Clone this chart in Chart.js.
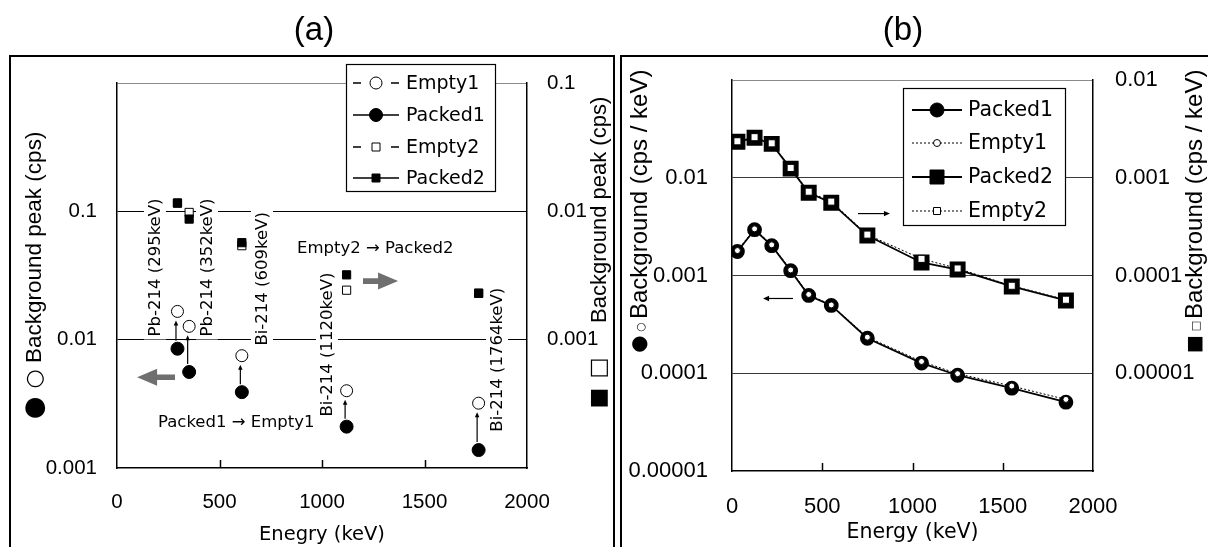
<!DOCTYPE html>
<html><head><meta charset="utf-8">
<script src="https://cdn.jsdelivr.net/npm/chart.js@4.4.0/dist/chart.umd.min.js"></script>
<style>
html,body{margin:0;padding:0;background:#fff;width:1208px;height:547px;overflow:hidden}
canvas{position:absolute;left:0;top:0}
</style></head><body>
<canvas id="ca" width="1208" height="547"></canvas>
<canvas id="cb" width="1208" height="547"></canvas>
<script>
// ---------- data: panel (a) ----------
const energyA = [295, 352, 609, 1120, 1764];
const empty1A = [0.0166, 0.0127, 0.0075, 0.0040, 0.0032];
const packed1A = [0.0085, 0.0056, 0.0039, 0.0021, 0.00138];
const empty2A = [0.0116, 0.0098, 0.0054, 0.00243, 0.0023];
const packed2A = [0.0116, 0.0087, 0.0057, 0.0032, 0.0023];
const peakLabelsA = ['Pb-214 (295keV)', 'Pb-214 (352keV)', 'Bi-214 (609keV)', 'Bi-214 (1120keV)', 'Bi-214 (1764keV)'];

// ---------- data: panel (b) ----------
const energyB = [30, 125, 220, 325, 425, 550, 750, 1050, 1250, 1550, 1850];
const packed1B = [0.00176, 0.00294, 0.00202, 0.00112, 0.000625, 0.000494, 0.000228, 0.000127, 0.0000954, 0.0000703, 0.0000506];
const empty1B = [0.00180, 0.00300, 0.00206, 0.00114, 0.00064, 0.00050, 0.000234, 0.000132, 0.0000990, 0.0000740, 0.0000540];
const packed2B = [0.00233, 0.00256, 0.00222, 0.00124, 0.000703, 0.000556, 0.000256, 0.000136, 0.000115, 0.0000773, 0.0000556];
const empty2B = [0.00236, 0.00260, 0.00225, 0.00126, 0.00072, 0.00057, 0.000262, 0.000148, 0.000118, 0.0000785, 0.0000565];

// ---------- ticks ----------
const xTickValues = [0, 500, 1000, 1500, 2000];
const xTickLabels = ['0', '500', '1000', '1500', '2000'];
const yLeftTicksA = [0.001, 0.01, 0.1, 1];
const yLeftLabelsA = ['0.001', '0.01', '0.1', ''];
const yRightTicksA = [0.0001, 0.001, 0.01, 0.1];
const yRightLabelsA = ['', '0.001', '0.01', '0.1'];
const yLeftTicksB = [0.00001, 0.0001, 0.001, 0.01, 0.1];
const yLeftLabelsB = ['0.00001', '0.0001', '0.001', '0.01', ''];
const yRightTicksB = [0.000001, 0.00001, 0.0001, 0.001, 0.01];
const yRightLabelsB = ['', '0.00001', '0.0001', '0.001', '0.01'];

const SANS = '"Liberation Sans", Arial, sans-serif';
const GOTH = '"DejaVu Sans", sans-serif';

function pts(xs, ys) { return xs.map((x, i) => ({ x: x, y: ys[i] })); }
function fixedTicks(values) { return function (scale) { scale.ticks = values.map(v => ({ value: v })); }; }
function labelFor(values, labels) {
  return function (v) {
    const i = values.findIndex(t => Math.abs(Math.log10(t) - Math.log10(v)) < 1e-6);
    return i >= 0 ? labels[i] : '';
  };
}
function xLabel(v) { const i = xTickValues.indexOf(v); return i >= 0 ? xTickLabels[i] : ''; }
function gridColor(min, max, inner) {
  return function (c) {
    const v = c.tick ? c.tick.value : null;
    if (v === null) return 'rgba(0,0,0,0)';
    if (Math.abs(Math.log10(v) - Math.log10(max)) < 1e-6) return '#8a8a8a';
    if (Math.abs(Math.log10(v) - Math.log10(min)) < 1e-6) return 'rgba(0,0,0,0)';
    return inner;
  };
}
function rotText(ctx, t, x, y, font, align) {
  ctx.save();
  ctx.translate(x, y);
  ctx.rotate(-Math.PI / 2);
  ctx.font = font;
  ctx.fillStyle = '#000';
  ctx.textAlign = align || 'left';
  ctx.textBaseline = 'middle';
  ctx.fillText(t, 0, 0);
  ctx.restore();
}
function arrowLine(ctx, x1, y1, x2, y2, head) {
  const a = Math.atan2(y2 - y1, x2 - x1);
  ctx.save();
  ctx.strokeStyle = '#000'; ctx.fillStyle = '#000'; ctx.lineWidth = 1.2;
  ctx.beginPath(); ctx.moveTo(x1, y1);
  ctx.lineTo(x2 - Math.cos(a) * head * 0.8, y2 - Math.sin(a) * head * 0.8); ctx.stroke();
  ctx.beginPath(); ctx.moveTo(x2, y2);
  ctx.lineTo(x2 - Math.cos(a) * head - Math.sin(a) * head * 0.45, y2 - Math.sin(a) * head + Math.cos(a) * head * 0.45);
  ctx.lineTo(x2 - Math.cos(a) * head + Math.sin(a) * head * 0.45, y2 - Math.sin(a) * head - Math.cos(a) * head * 0.45);
  ctx.closePath(); ctx.fill();
  ctx.restore();
}
function bigArrow(ctx, x1, y, x2) {
  const dir = Math.sign(x2 - x1), headL = 20, headH = 8.5, shaft = 2.8;
  ctx.save();
  ctx.fillStyle = '#6f6f6f';
  ctx.beginPath();
  ctx.moveTo(x1, y - shaft); ctx.lineTo(x2 - dir * headL, y - shaft);
  ctx.lineTo(x2 - dir * headL, y - headH); ctx.lineTo(x2, y);
  ctx.lineTo(x2 - dir * headL, y + headH); ctx.lineTo(x2 - dir * headL, y + shaft);
  ctx.lineTo(x1, y + shaft); ctx.closePath(); ctx.fill();
  ctx.restore();
}
function marker(ctx, kind, x, y, size, filled, lw) {
  ctx.save();
  ctx.fillStyle = filled ? '#000' : '#fff';
  ctx.strokeStyle = '#000'; ctx.lineWidth = lw || 1;
  ctx.beginPath();
  if (kind === 'circle') ctx.arc(x, y, size, 0, Math.PI * 2);
  else ctx.rect(x - size, y - size, size * 2, size * 2);
  ctx.fill(); ctx.stroke();
  ctx.restore();
}
function innerTicks(ctx, chart) {
  const xs = chart.scales.x, b = chart.chartArea.bottom;
  ctx.save(); ctx.strokeStyle = '#000'; ctx.lineWidth = 1.5;
  xTickValues.slice(1, -1).forEach(v => {
    const px = Math.round(xs.getPixelForValue(v)) + 0.5;
    ctx.beginPath(); ctx.moveTo(px, b); ctx.lineTo(px, b - 8); ctx.stroke();
  });
  ctx.restore();
}

// ---------- panel (a) ----------
const annA = {
  labelAnchors: [[185, 0.0106], [439, 0.0106], [707, 0.0090], [1024, 0.00252], [1854, 0.00192]],
  leftArrow: { from: 283, to: 98, v: 0.0051 },
  rightArrow: { from: 1200, to: 1371, v: 0.0286 },
  text1: { t: 'Packed1 \u2192 Empty1', e: 200, v: 0.00226 },
  text2: { t: 'Empty2 \u2192 Packed2', e: 878, v: 0.0511 }
};
const pluginA = {
  id: 'panelA',
  beforeDatasetsDraw(chart) {
    const ctx = chart.ctx, xs = chart.scales.x, ys = chart.scales.y;
    ctx.save();
    ctx.font = '16.5px ' + GOTH;
    peakLabelsA.forEach((t, i) => {
      const a = annA.labelAnchors[i];
      const px = xs.getPixelForValue(a[0]), py = ys.getPixelForValue(a[1]);
      ctx.save(); ctx.translate(px, py); ctx.rotate(-Math.PI / 2);
      const w = ctx.measureText(t).width;
      ctx.fillStyle = '#fff'; ctx.fillRect(-3, -11, w + 6, 22);
      ctx.fillStyle = '#000'; ctx.textAlign = 'left'; ctx.textBaseline = 'middle';
      ctx.fillText(t, 0, 1);
      ctx.restore();
    });
    ctx.restore();
  },
  afterDatasetsDraw(chart) {
    const ctx = chart.ctx, xs = chart.scales.x, ys = chart.scales.y;
    energyA.forEach((e, i) => {
      const px = xs.getPixelForValue(e) - 1.5;
      const y1 = ys.getPixelForValue(packed1A[i]) - 8;
      const y2 = ys.getPixelForValue(empty1A[i]) + 9;
      arrowLine(ctx, px, y1, px, y2, 5);
    });
    bigArrow(ctx, xs.getPixelForValue(annA.leftArrow.from), ys.getPixelForValue(annA.leftArrow.v), xs.getPixelForValue(annA.leftArrow.to));
    bigArrow(ctx, xs.getPixelForValue(annA.rightArrow.from), ys.getPixelForValue(annA.rightArrow.v), xs.getPixelForValue(annA.rightArrow.to));
    ctx.save();
    ctx.font = '16.5px ' + GOTH; ctx.fillStyle = '#000'; ctx.textBaseline = 'middle'; ctx.textAlign = 'left';
    ctx.fillText(annA.text1.t, xs.getPixelForValue(annA.text1.e), ys.getPixelForValue(annA.text1.v));
    ctx.fillText(annA.text2.t, xs.getPixelForValue(annA.text2.e), ys.getPixelForValue(annA.text2.v));
    ctx.restore();
    innerTicks(ctx, chart);
  },
  afterDraw(chart) {
    const ctx = chart.ctx, ca = chart.chartArea;
    ctx.save(); ctx.strokeStyle = '#000'; ctx.lineWidth = 2;
    ctx.beginPath(); ctx.moveTo(10, 560); ctx.lineTo(10, 56); ctx.lineTo(614, 56); ctx.lineTo(614, 560); ctx.stroke();
    ctx.restore();
    ctx.save(); ctx.font = '33px ' + SANS; ctx.fillStyle = '#000'; ctx.textAlign = 'center'; ctx.textBaseline = 'middle';
    ctx.fillText('(a)', 314, 31); ctx.restore();
    // axis titles
    rotText(ctx, 'Background peak (cps)', 35, 363, '22.5px ' + SANS, 'left');
    rotText(ctx, '\u25CB', 35, 379, '22px ' + GOTH, 'center');
    rotText(ctx, '\u25CF', 35, 408, '26px ' + GOTH, 'center');
    rotText(ctx, 'Background peak (cps)', 600, 323, '22px ' + SANS, 'left');
    rotText(ctx, '\u25A1', 599, 368, '22px ' + GOTH, 'center');
    rotText(ctx, '\u25A0', 599, 398, '22px ' + GOTH, 'center');
    ctx.save(); ctx.font = '19.5px ' + GOTH; ctx.fillStyle = '#000'; ctx.textAlign = 'center'; ctx.textBaseline = 'middle';
    ctx.fillText('Enegry (keV)', (ca.left + ca.right) / 2, 535); ctx.restore();
    // legend
    const L = { x: 346, y: 64, w: 149, h: 127 };
    ctx.save();
    ctx.fillStyle = '#fff'; ctx.fillRect(L.x, L.y, L.w, L.h);
    ctx.strokeStyle = '#000'; ctx.lineWidth = 1.2; ctx.strokeRect(L.x + 0.5, L.y + 0.5, L.w, L.h);
    const items = [
      { t: 'Empty1', y: 83, k: 'circle', s: 6, f: false, dash: true },
      { t: 'Packed1', y: 115, k: 'circle', s: 6.5, f: true, dash: false },
      { t: 'Empty2', y: 147, k: 'rect', s: 4, f: false, dash: true },
      { t: 'Packed2', y: 178, k: 'rect', s: 4, f: true, dash: false }
    ];
    items.forEach(it => {
      ctx.strokeStyle = '#000'; ctx.lineWidth = 1.3;
      ctx.beginPath();
      if (it.dash) { ctx.moveTo(353, it.y); ctx.lineTo(361, it.y); ctx.moveTo(391, it.y); ctx.lineTo(399, it.y); }
      else { ctx.moveTo(353, it.y); ctx.lineTo(399, it.y); }
      ctx.stroke();
      marker(ctx, it.k, 376, it.y, it.s, it.f, 1);
      ctx.fillStyle = '#000'; ctx.font = '19px ' + GOTH; ctx.textAlign = 'left'; ctx.textBaseline = 'middle';
      ctx.fillText(it.t, 406, it.y + 1);
    });
    ctx.restore();
  }
};

new Chart(document.getElementById('ca'), {
  type: 'scatter',
  data: {
    datasets: [
      { label: 'Packed2', data: pts(energyA, packed2A), yAxisID: 'y2', pointStyle: 'rect', pointRadius: 5.8, backgroundColor: '#000', borderColor: '#000', borderWidth: 1, order: 0 },
      { label: 'Empty2', data: pts(energyA, empty2A), yAxisID: 'y2', pointStyle: 'rect', pointRadius: 5.8, backgroundColor: '#fff', borderColor: '#000', borderWidth: 1, order: 1 },
      { label: 'Packed1', data: pts(energyA, packed1A), yAxisID: 'y', pointStyle: 'circle', pointRadius: 6.5, backgroundColor: '#000', borderColor: '#000', borderWidth: 1, order: 2 },
      { label: 'Empty1', data: pts(energyA, empty1A), yAxisID: 'y', pointStyle: 'circle', pointRadius: 6, backgroundColor: '#fff', borderColor: '#000', borderWidth: 1, order: 3 }
    ]
  },
  options: {
    responsive: false, animation: false, events: [],
    layout: { padding: { left: 10, top: 83, right: 581, bottom: 0 } },
    plugins: { legend: { display: false }, tooltip: { enabled: false } },
    scales: {
      x: {
        type: 'linear', min: 0, max: 2000,
        afterBuildTicks: fixedTicks(xTickValues),
        ticks: { callback: xLabel, color: '#000', font: { family: SANS, size: 20.5 }, padding: 22, maxRotation: 0, autoSkip: false },
        grid: { drawOnChartArea: false, drawTicks: false },
        border: { display: true, color: '#000', width: 1.5 },
        afterFit(s) { s.height = 79; }
      },
      y: {
        type: 'logarithmic', position: 'left', min: 0.001, max: 1,
        afterBuildTicks: fixedTicks(yLeftTicksA),
        ticks: { callback: labelFor(yLeftTicksA, yLeftLabelsA), color: '#000', font: { family: SANS, size: 20.5 }, padding: 20, autoSkip: false },
        grid: { color: gridColor(0.001, 1, '#000'), lineWidth: 1, drawTicks: false },
        border: { display: true, color: '#000', width: 1.5 },
        afterFit(s) { s.width = 107; }
      },
      y2: {
        type: 'logarithmic', position: 'right', min: 0.0001, max: 0.1,
        afterBuildTicks: fixedTicks(yRightTicksA),
        ticks: { callback: labelFor(yRightTicksA, yRightLabelsA), color: '#000', font: { family: SANS, size: 20.5 }, padding: 20, autoSkip: false },
        grid: { drawOnChartArea: false, drawTicks: false },
        border: { display: true, color: '#000', width: 1.5 },
        afterFit(s) { s.width = 100; }
      }
    }
  },
  plugins: [pluginA]
});

// ---------- panel (b) ----------
const annB = {
  rightArrow: { from: 698, to: 875, v: 0.0043 },
  leftArrow: { from: 338, to: 172, v: 0.000582 }
};
const pluginB = {
  id: 'panelB',
  afterDatasetsDraw(chart) {
    const ctx = chart.ctx, xs = chart.scales.x, ys = chart.scales.y;
    let y = ys.getPixelForValue(annB.rightArrow.v);
    arrowLine(ctx, xs.getPixelForValue(annB.rightArrow.from), y, xs.getPixelForValue(annB.rightArrow.to), y, 6);
    y = ys.getPixelForValue(annB.leftArrow.v);
    arrowLine(ctx, xs.getPixelForValue(annB.leftArrow.from), y, xs.getPixelForValue(annB.leftArrow.to), y, 6);
    innerTicks(ctx, chart);
  },
  afterDraw(chart) {
    const ctx = chart.ctx, ca = chart.chartArea;
    ctx.save(); ctx.strokeStyle = '#000'; ctx.lineWidth = 2;
    ctx.beginPath(); ctx.moveTo(621, 560); ctx.lineTo(621, 56); ctx.lineTo(1215, 56); ctx.stroke();
    ctx.restore();
    ctx.save(); ctx.font = '33px ' + SANS; ctx.fillStyle = '#000'; ctx.textAlign = 'center'; ctx.textBaseline = 'middle';
    ctx.fillText('(b)', 903, 31); ctx.restore();
    // axis titles
    rotText(ctx, 'Background (cps / keV)', 640, 319, '24px ' + SANS, 'left');
    rotText(ctx, '\u25CB', 641, 327, '11px ' + GOTH, 'center');
    rotText(ctx, '\u25CF', 640, 344, '20px ' + GOTH, 'center');
    rotText(ctx, 'Background (cps / keV)', 1195, 319, '24px ' + SANS, 'left');
    rotText(ctx, '\u25A1', 1196, 326, '11px ' + GOTH, 'center');
    rotText(ctx, '\u25A0', 1195, 344, '19px ' + GOTH, 'center');
    ctx.save(); ctx.font = '20.5px ' + GOTH; ctx.fillStyle = '#000'; ctx.textAlign = 'center'; ctx.textBaseline = 'middle';
    ctx.fillText('Energy (keV)', (ca.left + ca.right) / 2, 533); ctx.restore();
    // legend
    const L = { x: 903, y: 88, w: 162, h: 137 };
    ctx.save();
    ctx.fillStyle = '#fff'; ctx.fillRect(L.x, L.y, L.w, L.h);
    ctx.strokeStyle = '#000'; ctx.lineWidth = 1.2; ctx.strokeRect(L.x + 0.5, L.y + 0.5, L.w, L.h);
    const items = [
      { t: 'Packed1', y: 110, k: 'circle', s: 7, f: true, dot: false },
      { t: 'Empty1', y: 143, k: 'circle', s: 3.5, f: false, dot: true },
      { t: 'Packed2', y: 177, k: 'rect', s: 7, f: true, dot: false },
      { t: 'Empty2', y: 211, k: 'rect', s: 3.5, f: false, dot: true }
    ];
    items.forEach(it => {
      ctx.strokeStyle = '#000';
      ctx.lineWidth = it.dot ? 1 : 1.8;
      ctx.setLineDash(it.dot ? [2, 2] : []);
      ctx.beginPath(); ctx.moveTo(912, it.y); ctx.lineTo(962, it.y); ctx.stroke();
      ctx.setLineDash([]);
      marker(ctx, it.k, 937, it.y, it.s, it.f, 1);
      ctx.fillStyle = '#000'; ctx.font = '20.5px ' + GOTH; ctx.textAlign = 'left'; ctx.textBaseline = 'middle';
      ctx.fillText(it.t, 968, it.y + 1);
    });
    ctx.restore();
  }
};

new Chart(document.getElementById('cb'), {
  type: 'line',
  data: {
    datasets: [
      { label: 'Empty1', data: pts(energyB, empty1B), yAxisID: 'y', borderColor: '#000', borderWidth: 1, borderDash: [2, 2], pointStyle: 'circle', pointRadius: 3, backgroundColor: '#fff', pointBorderColor: '#000', pointBorderWidth: 1, order: 0 },
      { label: 'Empty2', data: pts(energyB, empty2B), yAxisID: 'y2', borderColor: '#000', borderWidth: 1, borderDash: [2, 2], pointStyle: 'rect', pointRadius: 5, backgroundColor: '#fff', pointBorderColor: '#000', pointBorderWidth: 1, order: 1 },
      { label: 'Packed1', data: pts(energyB, packed1B), yAxisID: 'y', borderColor: '#000', borderWidth: 1.8, pointStyle: 'circle', pointRadius: 6.5, backgroundColor: '#000', pointBorderColor: '#000', order: 2 },
      { label: 'Packed2', data: pts(energyB, packed2B), yAxisID: 'y2', borderColor: '#000', borderWidth: 1.8, pointStyle: 'rect', pointRadius: 10, backgroundColor: '#000', pointBorderColor: '#000', order: 3 }
    ]
  },
  options: {
    responsive: false, animation: false, events: [],
    layout: { padding: { left: 621, top: 80, right: 5, bottom: 0 } },
    plugins: { legend: { display: false }, tooltip: { enabled: false } },
    scales: {
      x: {
        type: 'linear', min: 0, max: 2000,
        afterBuildTicks: fixedTicks(xTickValues),
        ticks: { callback: xLabel, color: '#000', font: { family: SANS, size: 22 }, padding: 23, maxRotation: 0, autoSkip: false },
        grid: { drawOnChartArea: false, drawTicks: false },
        border: { display: true, color: '#000', width: 1.5 },
        afterFit(s) { s.height = 76; }
      },
      y: {
        type: 'logarithmic', position: 'left', min: 0.00001, max: 0.1,
        afterBuildTicks: fixedTicks(yLeftTicksB),
        ticks: { callback: labelFor(yLeftTicksB, yLeftLabelsB), color: '#000', font: { family: SANS, size: 22 }, padding: 24, autoSkip: false },
        grid: { color: gridColor(0.00001, 0.1, '#3a3a3a'), lineWidth: 1, drawTicks: false },
        border: { display: true, color: '#000', width: 1.5 },
        afterFit(s) { s.width = 111; }
      },
      y2: {
        type: 'logarithmic', position: 'right', min: 0.000001, max: 0.01,
        afterBuildTicks: fixedTicks(yRightTicksB),
        ticks: { callback: labelFor(yRightTicksB, yRightLabelsB), color: '#000', font: { family: SANS, size: 22 }, padding: 22, autoSkip: false },
        grid: { drawOnChartArea: false, drawTicks: false },
        border: { display: true, color: '#000', width: 1.5 },
        afterFit(s) { s.width = 110; }
      }
    }
  },
  plugins: [pluginB]
});
</script>
</body></html>
